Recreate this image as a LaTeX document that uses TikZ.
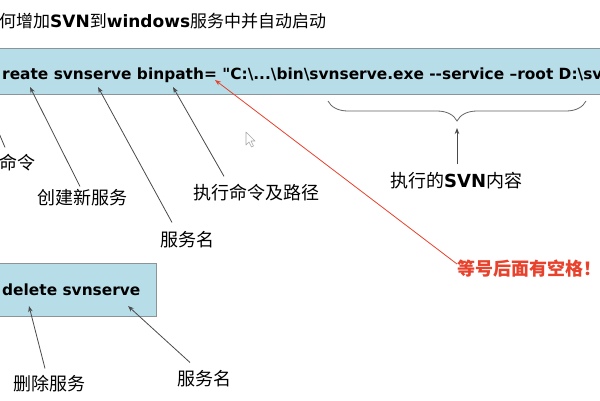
\documentclass[tikz,border=0pt]{standalone}
\usepackage{fontspec}
\setmainfont{DejaVu Sans}
\newfontfamily\cjk{Noto Sans CJK SC}
\usetikzlibrary{arrows.meta,decorations.pathreplacing}
\definecolor{boxblue}{HTML}{B7DDE8}
\definecolor{boxline}{HTML}{8A9499}
\definecolor{arrgray}{HTML}{4A4A4A}
\definecolor{warnred}{HTML}{E8412C}
\newcommand{\straightquote}{\XeTeXglyph\XeTeXcharglyph"22\relax}
\tikzset{
  cmdbox/.style={fill=boxblue,draw=boxline,line width=1pt},
  cmdtext/.style={anchor=base west,inner sep=0pt,font=\fontsize{15.4}{18}\selectfont\bfseries},
  lbl/.style={anchor=west,inner sep=0pt,font=\fontsize{18}{21}\selectfont\cjk},
  redlbl/.style={anchor=west,inner sep=0pt,text=warnred,font=\fontsize{18}{21}\selectfont\cjk\bfseries},
  arr/.style={draw=arrgray,line width=0.8pt,-{Stealth[length=6pt,width=4.5pt]}},
  redarr/.style={draw=warnred,line width=0.8pt,-{Stealth[length=6pt,width=4.5pt]}},
}
\begin{document}
\begin{tikzpicture}[x=1pt,y=-1pt]
\useasboundingbox[fill=white] (0,0) rectangle (600,400);
% title
\node[anchor=west,inner sep=0pt,font=\fontsize{17}{20}\selectfont] (title) at (-1,21)
  {{\cjk 何增加}\textbf{SVN}{\cjk 到}\textbf{windows}{\cjk 服务中并自动启动}};
% boxes
\path[cmdbox] (-5,48) rectangle (615,94);
\path[cmdbox] (-5,263) rectangle (156,316);
\node[cmdtext] (cmd1) at (2,79)
  {reate svnserve binpath= \straightquote C:\textbackslash...\textbackslash bin\textbackslash svnserve.exe -\kern0pt-service –root D:\textbackslash sv};
\node[cmdtext] (cmd2) at (2,295) {delete svnserve};
% labels
\node[lbl] (L0) at (-1,163) {命令};
\node[lbl] (L1) at (37,198) {创建新服务};
\node[lbl] (L2) at (160,240) {服务名};
\node[lbl] (L3) at (193,193) {执行命令及路径};
\node[lbl] (L5) at (390,181) {执行的\textbf{\rmfamily SVN}内容};
\node[redlbl] (L4) at (457,269) {等号后面有空格！};
\node[lbl] (L6) at (13,384) {删除服务};
\node[lbl] (L7) at (177,379) {服务名};
% arrow heads
\coordinate (h0) at (-10,112);
\coordinate (h1) at (30,87);
\coordinate (h2) at (98,87);
\coordinate (h3) at (173,87);
\coordinate (h4) at (215,80);
\coordinate (h5) at (457,128);
\coordinate (h6) at (29,306);
\coordinate (h7) at (128,306);
% brace
\draw[arrgray!85,line width=0.8pt,decorate,
  decoration={brace,amplitude=20pt,mirror}] (328,101) -- (586,101);
% connectors
\draw[arr] ([xshift=6pt,yshift=7pt]L0.north west) -- (h0);
\draw[arr] ([xshift=43pt,yshift=3pt]L1.north west) -- (h1);
\draw[arr] ([xshift=12pt,yshift=9pt]L2.north west) -- (h2);
\draw[arr] ([xshift=31pt,yshift=8pt]L3.north west) -- (h3);
\draw[redarr] ([yshift=5pt]L4.west) -- (h4);
\draw[arr] ([xshift=67pt,yshift=8pt]L5.north west) -- (h5);
\draw[arr] ([xshift=32pt,yshift=7pt]L6.north west) -- (h6);
\draw[arr] ([xshift=13pt,yshift=8pt]L7.north west) -- (h7);
% mouse cursor
\draw[gray!70,fill=white,line width=0.6pt,line join=round]
  (246,132) -- (246,145) -- (249,142) -- (251.5,147) -- (253.5,146) -- (251,141) -- (255,141) -- cycle;
\end{tikzpicture}
\end{document}
